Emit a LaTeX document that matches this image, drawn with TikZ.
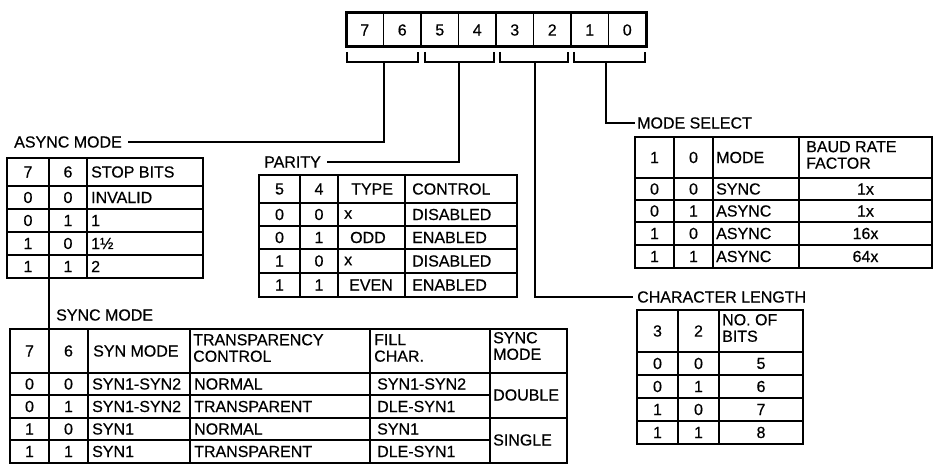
\documentclass[tikz,border=0pt]{standalone}
\usepackage{fontspec}
\setmainfont[FakeBold=0.5]{Liberation Sans}
\usetikzlibrary{positioning,calc}

\begin{document}
\begin{tikzpicture}[x=1pt,y=-1pt,
    txt/.style={font=\fontsize{16}{16.5}\selectfont, inner sep=0pt},
    lbl/.style={txt, anchor=west},
    grid/.style={line width=1.4pt},
    frame/.style={line width=2.1pt},
    link/.style={line width=1.4pt}]
    \useasboundingbox (0,0) rectangle (935,476);

    % register bits 7..0
    \draw[line width=3pt] (346,13) rectangle (646,47);
    \foreach \i in {1,...,7}
        \draw[grid] (346+37.5*\i,13) -- (346+37.5*\i,47);
    \foreach \b [count=\i from 0] in {7,6,5,4,3,2,1,0}
        \node[txt] (bit\b) at (346+18.75+37.5*\i,30) {\b};

    % brackets under the bit pairs
    \foreach \l/\r in {347/418, 425/494, 500/568, 574/645}
        \draw[link] (\l,52) -- (\l,62) -- (\r,62) -- (\r,52);
    \coordinate (s76) at (384,62);
    \coordinate (s54) at (459,62);
    \coordinate (s32) at (535,62);
    \coordinate (s10) at (606,62);

    % field labels
    \node[lbl] (asynclbl) at (14,142) {ASYNC MODE};
    \node[lbl] (paritylbl) at (264,162) {PARITY};
    \node[lbl] (modelbl) at (637,123) {MODE SELECT};
    \node[lbl] (charlbl) at (637,297) {CHARACTER LENGTH};
    \node[lbl] (synclbl) at (56,315) {SYNC MODE};

    \draw[link] (s76) |- ([xshift=6pt]asynclbl.east);
    \draw[link] (s54) |- ([xshift=6pt]paritylbl.east);
    \draw[link] (s10) |- ([xshift=-2pt]modelbl.west);
    \draw[link] (s32) |- ([xshift=-4pt]charlbl.west);

    % async mode table
    \draw[frame] (7,158) rectangle (203,278);
    \foreach \y in {186,209,232,255} \draw[grid] (7,\y) -- (203,\y);
    \foreach \x in {49,87} \draw[grid] (\x,158) -- (\x,278);
    \foreach \y/\a/\b/\t [count=\r] in {172/7/6/STOP BITS, 197.5/0/0/INVALID,
            220.5/0/1/1, 243.5/1/0/1½, 266.5/1/1/2} {
        \node[txt] (as\r a) at (28,\y) {\a};
        \node[txt] (as\r b) at (68,\y) {\b};
        \node[lbl] (as\r c) at (91,\y) {\t};
    }

    % async to sync mode
    \coordinate (asyncfoot) at (49,278);
    \coordinate (synchead) at (49,329);
    \draw[link] (asyncfoot) -- (synchead);

    % parity table
    \draw[frame] (259,175) rectangle (517,297);
    \foreach \y in {203,226,249,273} \draw[grid] (259,\y) -- (517,\y);
    \foreach \x in {300,338,405} \draw[grid] (\x,175) -- (\x,297);
    \foreach \y/\a/\b/\ty/\px/\c [count=\r] in {189/5/4/TYPE/351/CONTROL,
            214.5/0/0/x/344/DISABLED, 237.5/0/1/ODD/350/ENABLED,
            261/1/0/x/344/DISABLED, 285/1/1/EVEN/349/ENABLED} {
        \node[txt] (pa\r a) at (279.5,\y) {\a};
        \node[txt] (pa\r b) at (319,\y) {\b};
        \node[lbl] (pa\r c) at (\px,\y) {\ty};
        \node[lbl] (pa\r d) at (412,\y) {\c};
    }

    % mode select table
    \draw[frame] (635,137) rectangle (932,268);
    \foreach \y in {178,200,222,245} \draw[grid] (635,\y) -- (932,\y);
    \foreach \x in {674,713,799} \draw[grid] (\x,137) -- (\x,268);
    \node[txt] (ms0a) at (654.5,157.5) {1};
    \node[txt] (ms0b) at (693.5,157.5) {0};
    \node[lbl] (ms0c) at (716,157.5) {MODE};
    \node[lbl, align=left] (ms0d) at (806,155) {BAUD RATE\\FACTOR};
    \foreach \y/\a/\b/\m/\f [count=\r] in {189/0/0/SYNC/1x, 211/0/1/ASYNC/1x,
            233.5/1/0/ASYNC/16x, 256.5/1/1/ASYNC/64x} {
        \node[txt] (ms\r a) at (654.5,\y) {\a};
        \node[txt] (ms\r b) at (693.5,\y) {\b};
        \node[lbl] (ms\r c) at (716,\y) {\m};
        \node[txt] (ms\r d) at (865.5,\y) {\f};
    }

    % character length table
    \draw[frame] (637,310) rectangle (803,444);
    \foreach \y in {352,375,398,421} \draw[grid] (637,\y) -- (803,\y);
    \foreach \x in {678,719} \draw[grid] (\x,310) -- (\x,444);
    \node[txt] (cl0a) at (657.5,331) {3};
    \node[txt] (cl0b) at (698.5,331) {2};
    \node[lbl, align=left] (cl0c) at (722,328) {NO. OF\\BITS};
    \foreach \y/\a/\b/\n [count=\r] in {363.5/0/0/5, 386.5/0/1/6,
            409.5/1/0/7, 432.5/1/1/8} {
        \node[txt] (cl\r a) at (657.5,\y) {\a};
        \node[txt] (cl\r b) at (698.5,\y) {\b};
        \node[txt] (cl\r c) at (761,\y) {\n};
    }

    % sync mode table
    \draw[frame] (10,329) rectangle (567,463);
    \draw[grid] (10,373) -- (567,373);
    \foreach \y in {395,418,440} \draw[grid] (10,\y) -- (490,\y);
    \draw[grid] (490,418) -- (567,418);
    \foreach \x in {49,88,190,370,490} \draw[grid] (\x,329) -- (\x,463);
    \node[txt] (sy0a) at (29.5,351) {7};
    \node[txt] (sy0b) at (68.5,351) {6};
    \node[lbl] (sy0c) at (93,351) {SYN MODE};
    \node[lbl, align=left] (sy0d) at (193,348) {TRANSPARENCY\\CONTROL};
    \node[lbl, align=left] (sy0e) at (374,348) {FILL\\CHAR.};
    \node[lbl, align=left] (sy0f) at (493,346) {SYNC\\MODE};
    \foreach \y/\a/\b/\s/\t/\f [count=\r] in {
            384/0/0/SYN1-SYN2/NORMAL/SYN1-SYN2,
            406.5/0/1/SYN1-SYN2/TRANSPARENT/DLE-SYN1,
            429/1/0/SYN1/NORMAL/SYN1,
            451.5/1/1/SYN1/TRANSPARENT/DLE-SYN1} {
        \node[txt] (sy\r a) at (29.5,\y) {\a};
        \node[txt] (sy\r b) at (68.5,\y) {\b};
        \node[lbl] (sy\r c) at (92,\y) {\s};
        \node[lbl] (sy\r d) at (194,\y) {\t};
        \node[lbl] (sy\r e) at (377,\y) {\f};
    }
    \node[lbl] (double) at (493,395) {DOUBLE};
    \node[lbl] (single) at (493,440) {SINGLE};
\end{tikzpicture}
\end{document}
